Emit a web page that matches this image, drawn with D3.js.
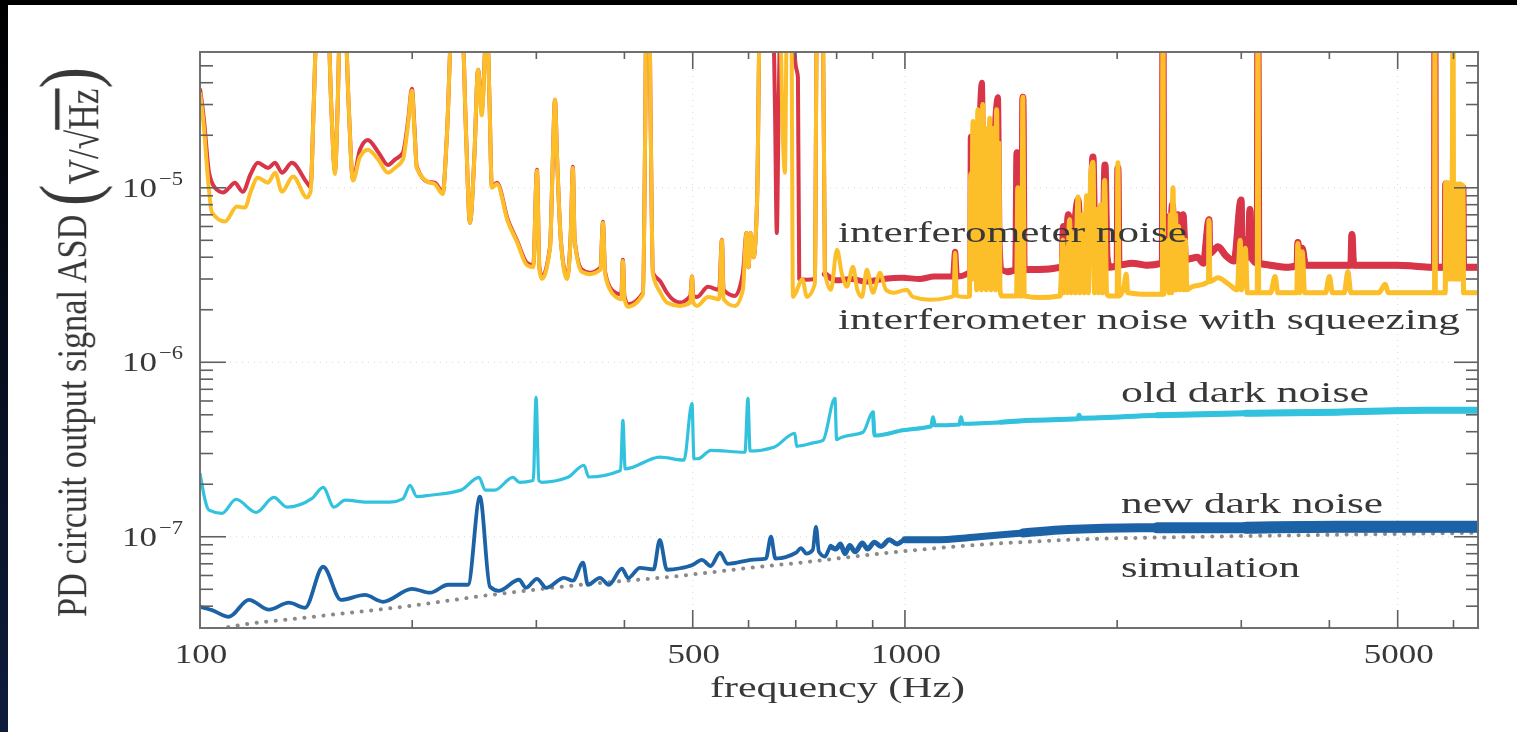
<!DOCTYPE html>
<html>
<head>
<meta charset="utf-8">
<script src="https://cdn.jsdelivr.net/npm/d3@7"></script>
<style>
  body { margin: 0; background: #fff; overflow: hidden; }
  svg { display: block; background: #fff; }
  text { font-family: "Liberation Serif", "DejaVu Serif", serif; fill: #383838; }
</style>
</head>
<body>
<svg width="1517" height="732"></svg>
<script>
// Noise spectra of the photodiode circuit: [frequency (Hz), ASD (V/sqrt(Hz))]
// Values above the top of the plot are spikes that get clipped at the frame.

const interferometerNoise = [
  [100, 3.7e-5], [101.3, 2.45e-5], [103, 1.22e-5], [105, 1.0e-5], [107.8, 9.4e-6], [110, 1.0e-5], [112, 1.07e-5],
  [115, 9.5e-6], [118, 1.2e-5], [120.8, 1.39e-5], [124.9, 1.3e-5], [127.8, 1.39e-5], [130.7, 1.22e-5], [135, 1.39e-5],
  [141.8, 1.07e-5], [143.5, 1.01e-5], [145, 3e-5], [146.5, 9e-5], [151.9, 9e-5], [153.5, 3e-5], [155.4, 1.24e-5],
  [156.8, 3e-5], [158, 9e-5], [160.6, 9e-5], [162.5, 3e-5], [164.8, 1.11e-5], [168.6, 1.65e-5], [173, 1.88e-5],
  [179, 1.6e-5], [184.8, 1.35e-5], [189, 1.45e-5], [194, 1.59e-5], [197.5, 2.5e-5], [199.8, 3.7e-5], [201.5, 2.2e-5],
  [203, 1.32e-5], [210.6, 1.08e-5], [215.4, 1.07e-5], [221, 9.4e-6], [224, 2e-5], [227.8, 9e-5], [235.3, 9e-5],
  [238.5, 2e-5], [241.5, 6.3e-6], [245, 1.5e-5], [248, 4.75e-5], [251, 2.8e-5], [255.3, 9e-5], [257.5, 3e-5],
  [259.4, 1.01e-5], [263.8, 1.07e-5], [273.3, 6.56e-6], [281.6, 5.0e-6], [290.9, 3.72e-6], [297, 3.6e-6],
  [300.6, 1.27e-5], [303, 3.5e-6], [305.5, 3.09e-6], [313.7, 4.59e-6], [316.5, 1.4e-5], [318.8, 3.2e-5], [321, 1.5e-5],
  [325, 5e-6], [331.6, 3.09e-6], [336, 6e-6], [338, 1.32e-5], [340, 5e-6], [348, 3.4e-6], [357.4, 3.26e-6],
  [370, 3.5e-6], [372.9, 6.38e-6], [375.5, 3.3e-6], [384, 2.6e-6], [396, 2.45e-6], [398, 3.87e-6], [400, 2.4e-6],
  [404.6, 2.15e-6], [425, 2.5e-6], [428, 2e-5], [429.5, 9e-5], [434, 9e-5], [436, 2e-5], [439, 3.26e-6], [450, 2.9e-6],
  [459.6, 2.5e-6], [479.6, 2.2e-6], [496, 2.4e-6], [498.8, 3.1e-6], [501, 2.4e-6], [507, 2.37e-6], [525.5, 2.71e-6],
  [545, 2.6e-6], [550, 5.03e-6], [553, 2.6e-6], [574, 2.4e-6], [589, 3.26e-6], [596, 5.5e-6], [600, 3.5e-6],
  [604, 5.5e-6], [610, 4e-6], [617, 8.5e-6], [622.6, 9e-5], [650, 9e-5], [654, 3e-5], [658, 5.5e-6], [662, 3e-5],
  [666, 9e-5], [690, 9e-5], [700, 5e-5], [705, 4.3e-5], [708, 3.0e-6], [726, 2.97e-6], [745, 3.0e-6], [750, 9e-5],
  [765, 9e-5], [770, 3.2e-6], [800, 2.95e-6], [840, 3.0e-6], [880, 2.9e-6], [930, 3.0e-6], [991, 3.05e-6],
  [1050, 3.0e-6], [1100, 3.1e-6], [1170, 3.1e-6], [1178, 4.3e-6], [1185, 3.1e-6], [1233, 3.26e-6], [1238, 3.3e-6],
  [1240, 1.96e-5], [1244, 6e-6], [1250, 1.6e-5], [1256, 5e-6], [1262, 1.4e-5], [1268, 4e-6], [1276, 2.2e-5],
  [1286, 4.0e-5], [1292, 8e-6], [1300, 1.5e-5], [1310, 5e-6], [1320, 1.2e-5], [1330, 6e-6], [1340, 2.0e-5],
  [1355, 3.3e-5], [1362, 5e-6], [1370, 3.4e-6], [1400, 3.3e-6], [1436, 3.4e-6], [1442, 1.59e-5], [1448, 3.4e-6],
  [1465, 3.5e-6], [1470, 3.3e-5], [1476, 3.4e-6], [1550, 3.4e-6], [1660, 3.5e-6], [1672, 3.6e-6], [1678, 6e-6],
  [1690, 3.8e-6], [1705, 7e-6], [1720, 4e-6], [1760, 8.5e-6], [1775, 4.5e-6], [1800, 6e-6], [1830, 5e-6],
  [1848, 1.5e-5], [1860, 5e-6], [1890, 7e-6], [1910, 4.5e-6], [1922, 1.35e-5], [1935, 4e-6], [1950, 3.5e-6],
  [2000, 3.6e-6], [2005, 1.3e-5], [2012, 3.6e-6], [2100, 3.7e-6], [2200, 3.6e-6], [2318, 3.7e-6], [2323, 9e-5],
  [2328, 3.7e-6], [2360, 3.8e-6], [2368, 6.82e-6], [2380, 4.5e-6], [2395, 8e-6], [2410, 5e-6], [2440, 7e-6],
  [2460, 6e-6], [2480, 7e-6], [2500, 4e-6], [2520, 3.9e-6], [2600, 4.0e-6], [2650, 3.7e-6], [2700, 6.56e-6],
  [2705, 4.2e-6], [2780, 4.6e-6], [2850, 4.1e-6], [2930, 3.8e-6], [2998, 8.5e-6], [3010, 4e-6], [3040, 5e-6],
  [3070, 4e-6], [3086, 7.5e-6], [3100, 4e-6], [3160, 3.7e-6], [3168, 9e-5], [3176, 3.7e-6], [3300, 3.6e-6],
  [3500, 3.5e-6], [3600, 3.6e-6], [3609, 4.85e-6], [3630, 3.6e-6], [3660, 4.5e-6], [3700, 3.6e-6], [4000, 3.6e-6],
  [4290, 3.6e-6], [4306, 5.4e-6], [4330, 3.6e-6], [4700, 3.6e-6], [5000, 3.6e-6], [5300, 3.55e-6], [5640, 3.5e-6],
  [5647, 9e-5], [5654, 3.5e-6], [5840, 3.5e-6], [5850, 1.05e-5], [5862, 3.5e-6], [6180, 3.5e-6], [6188, 1.0e-5],
  [6200, 3.5e-6], [6500, 3.5e-6]
];

const squeezedNoise = [
  [100, 3.5e-5], [101.3, 2.2e-5], [102.5, 1.2e-5], [104, 7.2e-6], [108.5, 6.4e-6], [112.8, 7.8e-6], [115.8, 7.7e-6],
  [118, 9.5e-6], [120.8, 1.14e-5], [124.9, 1.07e-5], [127.8, 1.22e-5], [130.7, 9.5e-6], [135.5, 1.16e-5],
  [141.8, 8.8e-6], [143.5, 9.5e-6], [145, 3e-5], [146.5, 9e-5], [151.9, 9e-5], [153.5, 3e-5], [155.4, 1.2e-5],
  [156.8, 3e-5], [158, 9e-5], [160.6, 9e-5], [162.5, 3e-5], [164.8, 1.1e-5], [168.6, 1.5e-5], [173, 1.65e-5],
  [179, 1.45e-5], [184.8, 1.22e-5], [189, 1.3e-5], [194, 1.45e-5], [197.5, 2.4e-5], [199.8, 3.6e-5], [201.5, 2.1e-5],
  [203, 1.3e-5], [210.6, 1.08e-5], [215.4, 1.05e-5], [221, 9.2e-6], [224, 2e-5], [227.8, 9e-5], [235.3, 9e-5],
  [238.5, 2e-5], [241.5, 6.3e-6], [245, 1.5e-5], [248, 4.75e-5], [251, 2.6e-5], [255.3, 9e-5], [257.5, 3e-5],
  [259.4, 1.0e-5], [263.8, 1.05e-5], [273.3, 6.4e-6], [281.6, 4.9e-6], [290.9, 3.6e-6], [297, 3.5e-6],
  [300.6, 1.25e-5], [303, 3.4e-6], [305.5, 3.0e-6], [313.7, 4.5e-6], [316.5, 1.4e-5], [318.8, 3.2e-5], [321, 1.5e-5],
  [325, 5e-6], [331.6, 3.0e-6], [336, 6e-6], [338, 1.3e-5], [340, 5e-6], [348, 3.3e-6], [357.4, 3.2e-6],
  [370, 3.4e-6], [372.9, 6.3e-6], [375.5, 3.2e-6], [384, 2.5e-6], [396, 2.3e-6], [398, 3.8e-6], [400, 2.3e-6],
  [404.6, 2.08e-6], [425, 2.45e-6], [428, 2e-5], [429.5, 9e-5], [434, 9e-5], [436, 2e-5], [439, 3.2e-6], [450, 2.5e-6],
  [459.6, 2.2e-6], [479.6, 2.1e-6], [496, 2.2e-6], [498.8, 3.1e-6], [501, 2.2e-6], [507, 2.1e-6], [525.5, 2.37e-6],
  [545, 2.3e-6], [550, 5.0e-6], [553, 2.3e-6], [574, 2.1e-6], [589, 2.6e-6], [596, 5.5e-6], [600, 3.5e-6],
  [604, 5.5e-6], [610, 4e-6], [617, 8.5e-6], [622.6, 9e-5], [665, 9e-5], [671, 2e-5], [675.6, 1.22e-5], [680, 9e-5],
  [690, 9e-5], [693.6, 2.37e-6], [700, 2.5e-6], [715, 3e-6], [726, 2.37e-6], [745, 2.8e-6], [750, 9e-5], [765, 9e-5],
  [770, 3.26e-6], [785, 2.6e-6], [801, 4.41e-6], [814, 3.2e-6], [827.5, 2.71e-6], [843.8, 3.53e-6], [856, 2.6e-6],
  [869, 2.37e-6], [883, 3.39e-6], [900.9, 2.5e-6], [921.5, 3.26e-6], [940, 2.6e-6], [961.6, 2.5e-6], [1006, 2.6e-6],
  [1026, 2.37e-6], [1085, 2.28e-6], [1147, 2.34e-6], [1172, 2.4e-6], [1178, 4.24e-6], [1185, 2.4e-6], [1225, 2.37e-6],
  [1235, 2.4e-6], [1240, 1.2e-5], [1244, 3e-6], [1249, 2.4e-5], [1254, 3e-6], [1259, 2.0e-5], [1264, 2.6e-6],
  [1269, 2.8e-5], [1274, 3e-6], [1279, 1.5e-5], [1284, 2.6e-6], [1289, 3.0e-5], [1294, 3e-6], [1299, 2.2e-5],
  [1304, 2.6e-6], [1309, 1.8e-5], [1314, 3e-6], [1319, 2.5e-5], [1324, 2.6e-6], [1329, 1.6e-5], [1334, 3e-6],
  [1339, 2.2e-5], [1344, 2.6e-6], [1349, 2.8e-5], [1354, 3e-6], [1359, 1.8e-5], [1364, 2.6e-6], [1370, 2.4e-6],
  [1400, 2.4e-6], [1440, 2.4e-6], [1446, 1.0e-5], [1452, 2.4e-6], [1465, 2.4e-6], [1470, 3.3e-5], [1476, 2.4e-6],
  [1550, 2.35e-6], [1660, 2.4e-6], [1675, 5e-6], [1680, 2.5e-6], [1690, 4.5e-6], [1700, 2.5e-6], [1712, 6.56e-6],
  [1722, 2.5e-6], [1735, 5.5e-6], [1745, 2.5e-6], [1760, 8.85e-6], [1770, 2.5e-6], [1785, 7e-6], [1795, 2.5e-6],
  [1810, 9e-6], [1820, 2.5e-6], [1835, 1.2e-5], [1848, 1.4e-5], [1858, 2.5e-6], [1870, 7.5e-6], [1882, 2.5e-6],
  [1895, 8e-6], [1905, 2.5e-6], [1920, 1.1e-5], [1932, 2.5e-6], [1946, 2.4e-6], [2000, 2.4e-6], [2005, 1.39e-5],
  [2012, 2.4e-6], [2045, 2.7e-6], [2060, 3.2e-6], [2070, 2.5e-6], [2200, 2.45e-6], [2318, 2.45e-6], [2323, 9e-5],
  [2328, 2.45e-6], [2362, 5e-6], [2370, 2.5e-6], [2380, 7e-6], [2390, 2.5e-6], [2400, 1.0e-5], [2410, 2.6e-6],
  [2420, 7e-6], [2432, 2.6e-6], [2445, 6e-6], [2458, 2.6e-6], [2470, 5.5e-6], [2485, 2.6e-6], [2500, 5e-6],
  [2512, 2.6e-6], [2550, 2.7e-6], [2650, 2.8e-6], [2695, 2.9e-6], [2700, 6.5e-6], [2708, 2.9e-6], [2780, 3.05e-6],
  [2880, 2.8e-6], [2960, 2.6e-6], [2990, 5e-6], [3000, 2.6e-6], [3040, 4.5e-6], [3060, 2.5e-6], [3160, 2.5e-6],
  [3168, 9e-5], [3176, 2.5e-6], [3300, 2.5e-6], [3350, 3.1e-6], [3380, 2.5e-6], [3595, 2.5e-6], [3609, 4.8e-6],
  [3630, 2.5e-6], [3660, 4.3e-6], [3690, 2.5e-6], [3950, 2.5e-6], [4000, 3.1e-6], [4040, 2.5e-6], [4200, 2.5e-6],
  [4250, 3.3e-6], [4290, 2.5e-6], [4700, 2.5e-6], [4800, 2.8e-6], [4850, 2.5e-6], [5640, 2.5e-6], [5647, 9e-5],
  [5654, 2.5e-6], [5840, 2.5e-6], [5850, 1.07e-5], [5865, 3e-6], [5880, 1.07e-5], [5895, 3e-6], [5910, 1.07e-5],
  [5925, 3e-6], [5940, 1.05e-5], [5955, 3e-6], [5975, 1.05e-5], [5990, 9e-5], [6005, 3e-6], [6020, 1.05e-5],
  [6040, 3e-6], [6060, 1.05e-5], [6080, 3e-6], [6100, 1.05e-5], [6120, 3e-6], [6140, 1.05e-5], [6160, 3e-6],
  [6188, 1.03e-5], [6200, 2.5e-6], [6500, 2.5e-6]
];

const oldDarkNoise = [
  [100, 2.31e-7], [103, 1.42e-7], [107.4, 1.36e-7], [112.5, 1.64e-7], [120.1, 1.38e-7], [127.3, 1.68e-7],
  [132.8, 1.48e-7], [144.2, 1.66e-7], [149.5, 1.92e-7], [154.9, 1.48e-7], [160.6, 1.62e-7], [172.5, 1.58e-7],
  [186, 1.58e-7], [194, 1.65e-7], [198.6, 1.97e-7], [203, 1.7e-7], [212, 1.73e-7], [234.5, 1.85e-7], [248.7, 2.19e-7],
  [254, 1.85e-7], [261.9, 1.85e-7], [277.9, 2.19e-7], [284, 2.05e-7], [297, 2.1e-7], [299.7, 6.3e-7], [302.5, 2.1e-7],
  [305.5, 2.05e-7], [332.6, 2.19e-7], [350.5, 2.57e-7], [356, 2.2e-7], [395, 2.4e-7], [398, 4.65e-7], [401, 2.45e-7],
  [449, 2.86e-7], [485.9, 2.75e-7], [498.8, 5.82e-7], [502, 2.8e-7], [508.6, 2.8e-7], [530.6, 3.13e-7], [593, 3.05e-7],
  [598.8, 6.22e-7], [603, 3.1e-7], [651.9, 3.26e-7], [698, 3.92e-7], [702, 3.3e-7], [740.5, 3.45e-7], [765, 3.57e-7],
  [795.7, 6.22e-7], [800, 3.6e-7], [811, 3.7e-7], [871.8, 3.97e-7], [900.9, 5.17e-7], [906, 3.8e-7], [993.6, 4.08e-7],
  [1090, 4.3e-7], [1096, 4.84e-7], [1102, 4.35e-7], [1195, 4.4e-7], [1201, 4.84e-7], [1207, 4.45e-7], [1368, 4.53e-7],
  [1514, 4.65e-7], [1760, 4.75e-7], [1766, 4.97e-7], [1772, 4.78e-7], [2278, 4.97e-7], [3046, 5.1e-7],
  [4087, 5.17e-7], [5466, 5.31e-7], [6500, 5.31e-7]
];

const newDarkNoise = [
  [100, 3.97e-8], [104, 3.8e-8], [109.9, 3.48e-8], [117.3, 4.35e-8], [125.3, 3.82e-8], [133.7, 4.19e-8],
  [140.9, 3.92e-8], [149.5, 6.73e-8], [158.5, 4.35e-8], [171.4, 4.65e-8], [181.8, 4.24e-8], [199.8, 5.03e-8],
  [212, 4.78e-8], [224.8, 5.31e-8], [240, 5.31e-8], [249.5, 1.695e-7], [257.8, 5.17e-8], [265.5, 4.9e-8],
  [283.5, 5.67e-8], [290, 5.1e-8], [300.6, 5.74e-8], [310, 5.1e-8], [328.4, 5.82e-8], [338, 5.6e-8], [349.4, 7.1e-8],
  [355, 5.31e-8], [369.3, 5.82e-8], [380, 5.3e-8], [396.8, 6.56e-8], [405, 5.8e-8], [420.8, 6.64e-8], [440, 6.5e-8],
  [449, 9.6e-8], [459.6, 6.47e-8], [480, 6.6e-8], [500.4, 6.91e-8], [515.2, 7.38e-8], [530, 6.8e-8], [546.7, 8.1e-8],
  [560, 7.0e-8], [604.7, 7.38e-8], [635, 7.5e-8], [645.6, 1.0e-7], [655, 7.5e-8], [700.5, 8.1e-8], [712, 8.6e-8],
  [725, 8.0e-8], [740, 8.4e-8], [747.9, 1.14e-7], [755, 8.2e-8], [770, 7.7e-8], [785, 8.8e-8], [798, 8.5e-8],
  [810, 9.1e-8], [822, 8.0e-8], [835, 8.9e-8], [850, 8.2e-8], [870, 9.2e-8], [885, 8.5e-8], [905, 9.3e-8],
  [925, 8.8e-8], [950, 9.6e-8], [975, 9.1e-8], [1000, 9.6e-8], [1099, 9.6e-8], [1273, 1.0e-7], [1470, 1.05e-7],
  [1703, 1.1e-7], [2278, 1.126e-7], [3046, 1.126e-7], [4087, 1.14e-7], [5000, 1.14e-7], [6500, 1.14e-7]
];

const simulation = [
  [100, 2.8e-8], [108.5, 3.01e-8], [145, 3.48e-8], [194, 3.97e-8], [259.5, 4.65e-8], [348, 5.31e-8], [465.7, 5.9e-8],
  [622.6, 6.73e-8], [709.5, 7.1e-8], [948.5, 8.1e-8], [1273, 9.0e-8], [1703, 9.6e-8], [2637, 1.0e-7],
  [4087, 1.027e-7], [6500, 1.054e-7]
];

// Axis ticks and labels
const xMajorTicks = [100, 500, 1000, 5000];
const xTickLabels = ["100", "500", "1000", "5000"];
const xMinorTicks = [200, 300, 400, 600, 700, 800, 900, 2000, 3000, 4000, 6000];
const yMajorTicks = [1e-7, 1e-6, 1e-5];
const yTickExponents = ["−7", "−6", "−5"];
const yMinorTicks = [4e-8, 5e-8, 6e-8, 7e-8, 8e-8, 9e-8, 2e-7, 3e-7, 4e-7, 5e-7, 6e-7, 7e-7, 8e-7, 9e-7,
  2e-6, 3e-6, 4e-6, 5e-6, 6e-6, 7e-6, 8e-6, 9e-6, 2e-5, 3e-5, 4e-5, 5e-5];

const svg = d3.select("svg");

// Plot frame in pixels
const plotLeft = 200, plotRight = 1478, plotTop = 52, plotBottom = 628;

const x = d3.scaleLog().domain([100, 6500]).range([plotLeft, plotRight]);
const y = d3.scaleLog().domain([3.0e-8, 6.0e-5]).range([plotBottom, plotTop]);

const defs = svg.append("defs");

defs.append("clipPath").attr("id", "plot-clip")
  .append("rect").attr("x", plotLeft).attr("y", plotTop)
  .attr("width", plotRight - plotLeft).attr("height", plotBottom - plotTop);

// Light blur, limited to the chart area, to match the soft look of the slide photo
defs.append("filter").attr("id", "soft")
  .attr("filterUnits", "userSpaceOnUse")
  .attr("x", 20).attr("y", 20).attr("width", 1480).attr("height", 700)
  .append("feGaussianBlur").attr("stdDeviation", 0.6);

const chart = svg.append("g").attr("filter", "url(#soft)");

// Faint dotted grid at the labelled decades
const grid = chart.append("g").attr("stroke", "#d8d8d8").attr("stroke-width", 1).attr("stroke-dasharray", "1,5");
grid.selectAll(".gx").data(xMajorTicks.slice(1)).join("line")
  .attr("x1", d => x(d)).attr("x2", d => x(d)).attr("y1", plotTop).attr("y2", plotBottom);
grid.selectAll(".gy").data(yMajorTicks).join("line")
  .attr("x1", plotLeft).attr("x2", plotRight).attr("y1", d => y(d)).attr("y2", d => y(d));

const plot = chart.append("g").attr("clip-path", "url(#plot-clip)");

const line = d3.line()
  .x(d => x(d[0]))
  .y(d => y(d[1]))
  .curve(d3.curveMonotoneX);

// Draw a series; the noisy high-frequency part is drawn again with wider strokes
function drawSeries(data, color, width, bands) {
  plot.append("path")
    .attr("d", line(data))
    .attr("fill", "none")
    .attr("stroke", color)
    .attr("stroke-width", width)
    .attr("stroke-linejoin", "round");
  (bands || []).forEach(([fromFreq, w]) => {
    plot.append("path")
      .attr("d", line(data.filter(d => d[0] >= fromFreq)))
      .attr("fill", "none")
      .attr("stroke", color)
      .attr("stroke-width", w)
      .attr("stroke-linejoin", "round")
      .attr("stroke-linecap", "round");
  });
}

// Simulation: grey dotted curve
plot.append("path")
  .attr("d", line(simulation))
  .attr("fill", "none")
  .attr("stroke", "#8a8a8a")
  .attr("stroke-width", 4)
  .attr("stroke-linecap", "round")
  .attr("stroke-dasharray", "0.1,9.5");

drawSeries(oldDarkNoise, "#33c2de", 3.2, [[900, 4], [1300, 5], [2000, 6], [3000, 7]]);
drawSeries(newDarkNoise, "#1f62a6", 3.8, [[780, 5], [1000, 7], [1400, 9], [2000, 11], [3000, 12]]);
drawSeries(interferometerNoise, "#d9354a", 4, [[770, 6], [1400, 7]]);
drawSeries(squeezedNoise, "#fcbf2a", 4, [[1235, 5]]);

// Frame
chart.append("rect")
  .attr("x", plotLeft).attr("y", plotTop)
  .attr("width", plotRight - plotLeft).attr("height", plotBottom - plotTop)
  .attr("fill", "none").attr("stroke", "#707070").attr("stroke-width", 2);

// Ticks point inwards on all four sides
const ticks = chart.append("g").attr("stroke", "#606060").attr("stroke-width", 1.6);
function xTicks(values, lenBottom, lenTop) {
  values.forEach(v => {
    ticks.append("line").attr("x1", x(v)).attr("x2", x(v)).attr("y1", plotBottom).attr("y2", plotBottom - lenBottom);
    ticks.append("line").attr("x1", x(v)).attr("x2", x(v)).attr("y1", plotTop).attr("y2", plotTop + lenTop);
  });
}
function yTicks(values, lenLeft, lenRight) {
  values.forEach(v => {
    ticks.append("line").attr("x1", plotLeft).attr("x2", plotLeft + lenLeft).attr("y1", y(v)).attr("y2", y(v));
    ticks.append("line").attr("x1", plotRight).attr("x2", plotRight - lenRight).attr("y1", y(v)).attr("y2", y(v));
  });
}
xTicks(xMajorTicks.slice(1), 18, 17);
xTicks(xMinorTicks, 8, 7);
yTicks(yMajorTicks, 26, 24);
yTicks(yMinorTicks, 13, 12);

// Text helper: the slide is stretched sideways, so glyphs are fitted to the measured widths
function addText(str, px, baseline, width, size, anchor) {
  return chart.append("text")
    .attr("x", px)
    .attr("y", baseline)
    .attr("text-anchor", anchor || "start")
    .attr("font-size", size)
    .attr("textLength", width)
    .attr("lengthAdjust", "spacingAndGlyphs")
    .text(str);
}

// X tick labels
xMajorTicks.forEach((v, i) => {
  addText(xTickLabels[i], x(v) + 1, 663, 17.5 * xTickLabels[i].length, 28, "middle");
});

// Y tick labels as 10 with a superscript exponent
yMajorTicks.forEach((v, i) => {
  const ty = y(v);
  addText("10", 157, ty + 9, 35, 28, "end");
  addText(yTickExponents[i], 159, ty - 3, 24, 19, "start");
});

// Axis titles
addText("frequency (Hz)", 710, 697, 255, 29, "start");

const yLabel = chart.append("text")
  .attr("transform", "translate(86,617) scale(1.3,1) rotate(-90)")
  .attr("font-size", 33)
  .attr("textLength", 550)
  .attr("lengthAdjust", "spacingAndGlyphs");
yLabel.append("tspan").text("PD circuit output signal ASD ");
yLabel.append("tspan").attr("font-size", 62).attr("dy", 7).text("(");
yLabel.append("tspan").attr("font-size", 34).attr("dy", 2).text("V/√");
yLabel.append("tspan").attr("font-size", 34).style("text-decoration", "overline").text("Hz");
yLabel.append("tspan").attr("font-size", 62).attr("dy", -2).text(")");

// Series labels
addText("interferometer noise", 838, 242, 349, 29);
addText("interferometer noise with squeezing", 838, 329, 622, 29);
addText("old dark noise", 1121, 402, 248, 29);
addText("new dark noise", 1121, 513, 262, 29);
addText("simulation", 1121, 577, 179, 29);

// Slide border: black strip on top, dark strip on the left (drawn last, unblurred)
const grad = defs.append("linearGradient").attr("id", "edge").attr("x1", 0).attr("y1", 0).attr("x2", 0).attr("y2", 1);
grad.append("stop").attr("offset", "0%").attr("stop-color", "#000");
grad.append("stop").attr("offset", "100%").attr("stop-color", "#0e1c3c");
svg.append("rect").attr("x", 0).attr("y", 0).attr("width", 1517).attr("height", 5).attr("fill", "#000");
svg.append("rect").attr("x", 0).attr("y", 0).attr("width", 8).attr("height", 732).attr("fill", "url(#edge)");
</script>
</body>
</html>
